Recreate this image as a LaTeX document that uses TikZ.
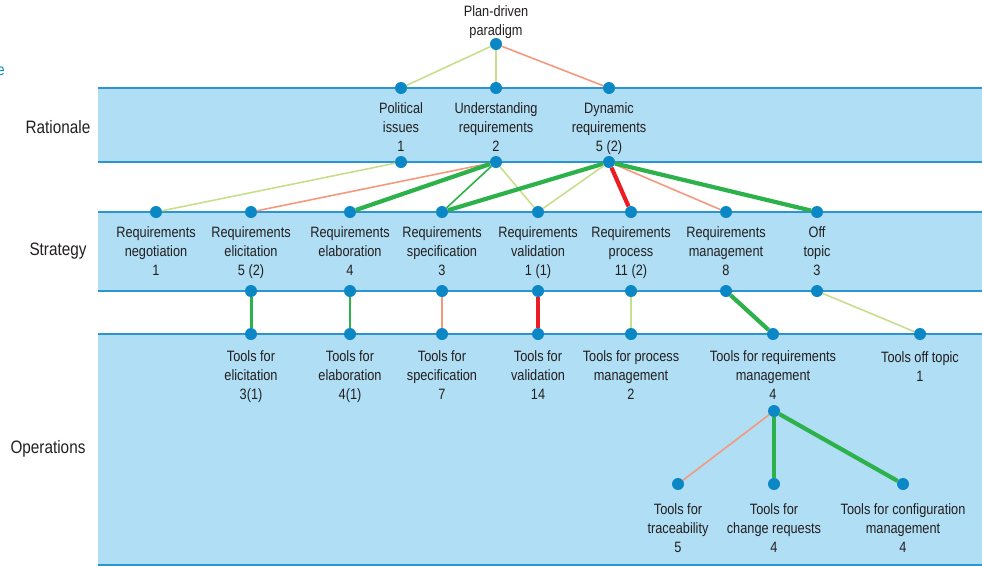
\documentclass[tikz,border=0pt]{standalone}
\usepackage{fontspec}
\setmainfont{Liberation Sans}[FakeStretch=0.85]
\usetikzlibrary{backgrounds}
\pgfdeclarelayer{bands}
\pgfdeclarelayer{links}
\pgfsetlayers{bands,links,main}

\definecolor{bandfill}{HTML}{B0DEF4}
\definecolor{bandline}{HTML}{2A95D0}
\definecolor{dotblue}{HTML}{0A87C4}
\definecolor{lgreen}{HTML}{C8DE8C}
\definecolor{salmon}{HTML}{F4997D}
\definecolor{dgreen}{HTML}{2DB24B}
\definecolor{hotred}{HTML}{EC1C24}
\definecolor{txt}{HTML}{231F20}

\tikzset{
  dot/.style={circle, fill=dotblue, minimum size=12pt, inner sep=0pt},
  lbl/.style={align=center, inner sep=0pt, text=txt, yshift=-3pt,
    font=\fontsize{15}{19}\selectfont,
    execute at begin node=\strut, execute at end node=\strut},
  layer/.style={inner sep=0pt, text=txt, font=\fontsize{18}{20}\selectfont},
  thinlink/.style={line width=1.6pt},
  midlink/.style={line width=3pt},
  thicklink/.style={line width=4.2pt},
  band/.style={fill=bandfill, draw=none},
  edge/.style={draw=bandline, line width=1.5pt},
}

\begin{document}
\begin{tikzpicture}[x=1pt, y=-1pt]
\useasboundingbox (0,0) rectangle (982,566);

% layer bands
\begin{pgfonlayer}{bands}
  \fill[band] (98,88) rectangle (982,162);
  \fill[band] (98,212) rectangle (982,291);
  \fill[band] (98,334) rectangle (982,566);
  \draw[edge] (98,88) -- (982,88);
  \draw[edge] (98,162) -- (982,162);
  \draw[edge] (98,212) -- (982,212);
  \draw[edge] (98,291) -- (982,291);
  \draw[edge] (98,334) -- (982,334);
  \draw[edge] (98,565) -- (982,565);
\end{pgfonlayer}

% stray caption fragment at the left margin
\node[anchor=east, inner sep=0pt, text=dotblue, font=\fontsize{16}{18}\selectfont] (frag) at (5,71) {e};

% layer names
\node[layer] (rat) at (58,127) {Rationale};
\node[layer] (str) at (58,251) {Strategy};
\node[layer] (ops) at (48,449) {Operations};

% root
\node[lbl] (pdtext) at (496,20) {Plan-driven\\paradigm};
\node[dot] (pd) at (496,44) {};

% rationale
\node[dot] (pol-t) at (401,88) {};
\node[dot] (und-t) at (496,88) {};
\node[dot] (dyn-t) at (609,88) {};
\node[lbl] (poltext) at (401,127) {Political\\issues\\1};
\node[lbl] (undtext) at (496,127) {Understanding\\requirements\\2};
\node[lbl] (dyntext) at (609,127) {Dynamic\\requirements\\5 (2)};
\node[dot] (pol-b) at (401,162) {};
\node[dot] (und-b) at (496,162) {};
\node[dot] (dyn-b) at (609,162) {};

% strategy
\node[dot] (neg-t) at (156,212) {};
\node[dot] (eli-t) at (251,212) {};
\node[dot] (ela-t) at (350,212) {};
\node[dot] (spe-t) at (442,212) {};
\node[dot] (val-t) at (538,212) {};
\node[dot] (pro-t) at (631,212) {};
\node[dot] (man-t) at (726,212) {};
\node[dot] (off-t) at (817,212) {};
\node[lbl] (negtext) at (156,251) {Requirements\\negotiation\\1};
\node[lbl] (elitext) at (251,251) {Requirements\\elicitation\\5 (2)};
\node[lbl] (elatext) at (350,251) {Requirements\\elaboration\\4};
\node[lbl] (spetext) at (442,251) {Requirements\\specification\\3};
\node[lbl] (valtext) at (538,251) {Requirements\\validation\\1 (1)};
\node[lbl] (protext) at (631,251) {Requirements\\process\\11 (2)};
\node[lbl] (mantext) at (726,251) {Requirements\\management\\8};
\node[lbl] (offtext) at (817,251) {Off\\topic\\3};
\node[dot] (eli-b) at (251,291) {};
\node[dot] (ela-b) at (350,291) {};
\node[dot] (spe-b) at (442,291) {};
\node[dot] (val-b) at (538,291) {};
\node[dot] (pro-b) at (631,291) {};
\node[dot] (man-b) at (726,291) {};
\node[dot] (off-b) at (817,291) {};

% operations
\node[dot] (teli) at (251,334) {};
\node[dot] (tela) at (350,334) {};
\node[dot] (tspe) at (442,334) {};
\node[dot] (tval) at (538,334) {};
\node[dot] (tpro) at (631,334) {};
\node[dot] (tman) at (773,334) {};
\node[dot] (toff) at (920,334) {};
\node[lbl] (telitext) at (251,375) {Tools for\\elicitation\\3(1)};
\node[lbl] (telatext) at (350,375) {Tools for\\elaboration\\4(1)};
\node[lbl] (tspetext) at (442,375) {Tools for\\specification\\7};
\node[lbl] (tvaltext) at (538,375) {Tools for\\validation\\14};
\node[lbl] (tprotext) at (631,375) {Tools for process\\management\\2};
\node[lbl] (tmantext) at (773,375) {Tools for requirements\\management\\4};
\node[lbl] (tofftext) at (920,366) {Tools off topic\\1};
\node[dot] (tman-b) at (774,411) {};
\node[dot] (ttra) at (678,484) {};
\node[dot] (tcha) at (774,484) {};
\node[dot] (tcon) at (903,484) {};
\node[lbl] (ttratext) at (678,528) {Tools for\\traceability\\5};
\node[lbl] (tchatext) at (774,528) {Tools for\\change requests\\4};
\node[lbl] (tcontext) at (903,528) {Tools for configuration\\management\\4};

% links between the levels
\begin{pgfonlayer}{links}
  \draw[thinlink, lgreen] (pd) -- (pol-t);
  \draw[thinlink, lgreen] (pd) -- (und-t);
  \draw[thinlink, salmon] (pd) -- (dyn-t);

  \draw[thinlink, lgreen] (pol-b) -- (neg-t);
  \draw[thinlink, salmon] (und-b) -- (eli-t);
  \draw[thicklink, dgreen] (und-b) -- (ela-t);
  \draw[thinlink, dgreen] (und-b) -- (spe-t);
  \draw[thinlink, lgreen] (und-b) -- (val-t);
  \draw[thicklink, dgreen] (dyn-b) -- (spe-t);
  \draw[thinlink, lgreen] (dyn-b) -- (val-t);
  \draw[thicklink, hotred] (dyn-b) -- (pro-t);
  \draw[thinlink, salmon] (dyn-b) -- (man-t);
  \draw[thicklink, dgreen] (dyn-b) -- (off-t);

  \draw[midlink, dgreen] (eli-b) -- (teli);
  \draw[thinlink, dgreen] (ela-b) -- (tela);
  \draw[thinlink, salmon] (spe-b) -- (tspe);
  \draw[thicklink, hotred] (val-b) -- (tval);
  \draw[thinlink, lgreen] (pro-b) -- (tpro);
  \draw[thicklink, dgreen] (man-b) -- (tman);
  \draw[thinlink, lgreen] (off-b) -- (toff);

  \draw[thinlink, salmon] (tman-b) -- (ttra);
  \draw[thicklink, dgreen] (tman-b) -- (tcha);
  \draw[thicklink, dgreen] (tman-b) -- (tcon);
\end{pgfonlayer}
\end{tikzpicture}
\end{document}
